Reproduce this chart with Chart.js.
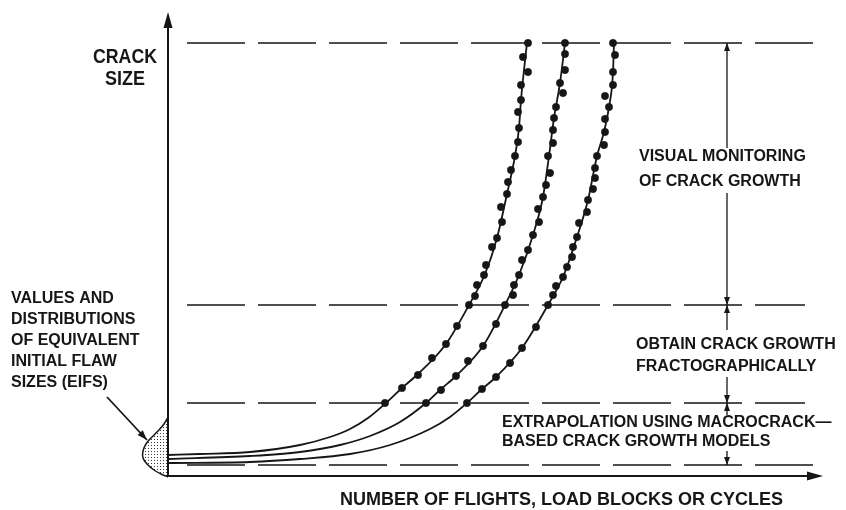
<!DOCTYPE html>
<html>
<head>
<meta charset="utf-8">
<script src="https://cdn.jsdelivr.net/npm/chart.js@4.4.0/dist/chart.umd.min.js"></script>
<style>
html, body { margin: 0; padding: 0; background: #fff; }
canvas { display: block; }
</style>
</head>
<body>
<canvas id="myChart" width="846" height="510"></canvas>
<script>
// schematic units: x = flights, y = crack size (arbitrary)
const curve1Line = [[0,2.2],[3.2,2.3],[8.2,2.5],[13.2,3.2],[16.2,4.0],[18.2,4.8],[20.0,5.9],[21.8,7.4],[23.4,8.9],[25.0,10.3],[27.8,13.3],[30.1,17.2],[31.7,20.3],[32.9,23.9],[33.9,28.3],[34.7,32.1],[35.1,34.9],[35.3,37.7],[35.6,40.7],[35.9,43.4]];
const curve2Line = [[0,1.8],[8.2,2.1],[13.2,2.5],[17.2,3.2],[20.2,4.1],[23.2,5.5],[25.8,7.4],[27.3,8.8],[28.8,10.1],[31.5,13.1],[33.7,17.2],[35.1,20.2],[36.5,24.2],[37.5,28.0],[38.1,32.1],[38.6,35.9],[39.2,39.4],[39.7,43.4]];
const curve3Line = [[0,1.4],[8.2,1.5],[13.2,1.8],[18.2,2.3],[22.2,3.2],[26.2,4.8],[28.2,6.0],[29.9,7.4],[31.4,8.8],[32.8,10.0],[35.4,12.9],[38.0,17.2],[39.5,20.0],[40.9,24.0],[42.0,27.7],[42.9,32.1],[43.6,34.5],[44.1,37.0],[44.5,40.5],[44.6,43.4]];

const curve1Dots = [[21.7,7.4],[23.4,8.9],[25.0,10.2],[26.4,11.9],[27.8,13.3],[28.9,15.1],[30.1,17.2],[30.7,18.1],[30.9,19.2],[31.6,20.2],[31.8,21.2],[32.4,23.0],[32.9,23.9],[33.4,25.5],[33.3,27.0],[33.9,28.3],[34.0,29.5],[34.3,30.7],[34.7,32.1],[35.0,33.5],[35.1,34.9],[35.0,36.5],[35.3,37.7],[35.3,39.2],[36.0,40.5],[35.5,42.0],[36.0,43.4]];
const curve2Dots = [[25.8,7.4],[27.3,8.7],[28.8,10.1],[30.0,11.6],[31.5,13.1],[32.8,15.3],[33.7,17.2],[34.5,18.2],[34.6,19.2],[35.1,20.2],[35.4,21.7],[36.0,22.7],[36.5,24.2],[37.1,25.5],[37.0,26.8],[37.5,28.0],[37.8,29.2],[38.2,30.4],[38.0,32.1],[38.5,33.4],[38.5,34.7],[38.6,35.9],[38.8,37.0],[39.5,38.4],[39.2,39.4],[39.7,40.7],[39.7,42.3],[39.7,43.4]];
const curve3Dots = [[29.9,7.4],[31.4,8.8],[32.8,10.0],[34.2,11.4],[35.4,12.9],[36.8,15.0],[38.0,17.2],[38.5,18.2],[38.8,19.1],[39.5,20.0],[39.9,21.0],[40.4,22.0],[40.5,23.0],[40.9,24.0],[41.1,25.4],[41.9,26.5],[42.0,27.7],[42.5,28.8],[42.7,29.9],[42.7,30.9],[42.9,32.1],[43.6,33.2],[43.7,34.5],[43.7,35.8],[44.1,37.0],[43.7,38.1],[44.5,39.2],[44.5,40.5],[44.7,42.2],[44.5,43.4]];

// initial flaw size distribution drawn against the crack size axis
const eifsShape = [[0,6.0],[-0.4,5.3],[-1.0,4.6],[-1.7,3.9],[-2.2,3.3],[-2.5,2.6],[-2.5,1.9],[-2.1,1.3],[-1.4,0.7],[-0.7,0.3],[-0.2,0.1],[0,0]];

// dashed crack size levels: [level, start, end]
const levels = [[43.4,1.9,65.8],[17.2,1.9,63.7],[7.4,1.9,63.7],[1.2,1.9,64.5]];

const toXY = arr => arr.map(p => ({ x: p[0], y: p[1] }));

const ink = '#161616';

const dotCanvas = document.createElement('canvas');
dotCanvas.width = 3; dotCanvas.height = 3;
const dctx = dotCanvas.getContext('2d');
dctx.fillStyle = '#3a3a3a';
dctx.fillRect(1, 1, 1, 1);
const stipple = document.getElementById('myChart').getContext('2d').createPattern(dotCanvas, 'repeat');

// text and arrow annotations, positions in chart units
const labels = [
    { t: 'CRACK', x: -4.3, y: 42.0, w: 64, font: 'bold 20px "Liberation Sans"', align: 'center' },
    { t: 'SIZE', x: -4.3, y: 39.8, w: 40, font: 'bold 20px "Liberation Sans"', align: 'center' },
    { t: 'VALUES AND', x: -15.7, y: 17.8, w: 110 },
    { t: 'DISTRIBUTIONS', x: -15.7, y: 15.7, w: 135 },
    { t: 'OF EQUIVALENT', x: -15.7, y: 13.6, w: 135 },
    { t: 'INITIAL FLAW', x: -15.7, y: 11.5, w: 118 },
    { t: 'SIZES (EIFS)', x: -15.7, y: 9.4, w: 101 },
    { t: 'VISUAL MONITORING', x: 47.1, y: 32.0, w: 177 },
    { t: 'OF CRACK GROWTH', x: 47.1, y: 29.5, w: 163 },
    { t: 'OBTAIN CRACK GROWTH', x: 46.8, y: 13.2, w: 204 },
    { t: 'FRACTOGRAPHICALLY', x: 46.8, y: 11.0, w: 186 },
    { t: 'EXTRAPOLATION USING MACROCRACK\u2014', x: 33.4, y: 5.4, w: 336 },
    { t: 'BASED CRACK GROWTH MODELS', x: 33.4, y: 3.5, w: 269 },
    { t: 'NUMBER OF FLIGHTS, LOAD BLOCKS OR CYCLES', x: 17.2, y: -2.3, w: 460, font: 'bold 18px "Liberation Sans"' }
];

const dimX = 55.9;
// [from, to] with an arrow head at "to"
const dimSegments = [[32.9,43.4],[28.4,17.2],[14.7,17.2],[10.0,7.4],[6.2,7.4],[2.6,1.2]];
const eifsArrow = [[-6.1,8.0],[-2.1,3.7]];

function arrowHead(ctx, x1, y1, x2, y2, len, half) {
    const a = Math.atan2(y2 - y1, x2 - x1);
    ctx.beginPath();
    ctx.moveTo(x2, y2);
    ctx.lineTo(x2 - len * Math.cos(a) + half * Math.sin(a), y2 - len * Math.sin(a) - half * Math.cos(a));
    ctx.lineTo(x2 - len * Math.cos(a) - half * Math.sin(a), y2 - len * Math.sin(a) + half * Math.cos(a));
    ctx.closePath();
    ctx.fill();
}

const schematic = {
    id: 'schematic',
    beforeDatasetsDraw(chart) {
        // stippled EIFS distribution (filler clips to the chart area, so fill by hand)
        const ctx = chart.ctx;
        const meta = chart.getDatasetMeta(chart.data.datasets.length - 1);
        const pts = meta.data;
        ctx.save();
        ctx.beginPath();
        ctx.moveTo(pts[0].x, pts[0].y);
        for (let i = 1; i < pts.length; i++) {
            const p = pts[i - 1], q = pts[i];
            if (p.cp2x !== undefined && q.cp1x !== undefined) {
                ctx.bezierCurveTo(p.cp2x, p.cp2y, q.cp1x, q.cp1y, q.x, q.y);
            } else {
                ctx.lineTo(q.x, q.y);
            }
        }
        ctx.closePath();
        ctx.fillStyle = stipple;
        ctx.fill();
        ctx.restore();
    },
    afterDatasetsDraw(chart) {
        const ctx = chart.ctx;
        const xs = chart.scales.x, ys = chart.scales.y;
        const px = v => xs.getPixelForValue(v);
        const py = v => ys.getPixelForValue(v);
        ctx.save();
        ctx.strokeStyle = ink;
        ctx.fillStyle = ink;

        // axes
        ctx.lineWidth = 2;
        ctx.beginPath();
        ctx.moveTo(px(0), py(0));
        ctx.lineTo(px(0), py(45.6));
        ctx.moveTo(px(0), py(0.1));
        ctx.lineTo(px(64.6), py(0.1));
        ctx.stroke();
        arrowHead(ctx, px(0), py(40), px(0), py(46.5), 16, 4.5);
        arrowHead(ctx, px(60), py(0.1), px(65.5), py(0.1), 16, 4.5);

        // dimension arrows
        ctx.lineWidth = 1.3;
        dimSegments.forEach(s => {
            ctx.beginPath();
            ctx.moveTo(px(dimX), py(s[0]));
            ctx.lineTo(px(dimX), py(s[1]));
            ctx.stroke();
            arrowHead(ctx, px(dimX), py(s[0]), px(dimX), py(s[1]), 8, 3);
        });

        // EIFS pointer
        ctx.lineWidth = 1.8;
        ctx.beginPath();
        ctx.moveTo(px(eifsArrow[0][0]), py(eifsArrow[0][1]));
        ctx.lineTo(px(eifsArrow[1][0]), py(eifsArrow[1][1]));
        ctx.stroke();
        arrowHead(ctx, px(eifsArrow[0][0]), py(eifsArrow[0][1]), px(eifsArrow[1][0]), py(eifsArrow[1][1]), 10, 3.5);

        // labels
        ctx.textBaseline = 'middle';
        labels.forEach(l => {
            ctx.font = l.font || 'bold 16px "Liberation Sans"';
            ctx.textAlign = l.align || 'left';
            ctx.fillText(l.t, px(l.x), py(l.y), l.w);
        });
        ctx.restore();
    }
};

const datasets = [];
[curve1Dots, curve2Dots, curve3Dots].forEach(d => {
    datasets.push({
        data: toXY(d), showLine: false, pointRadius: 3.7, pointBackgroundColor: ink,
        pointBorderColor: ink, pointBorderWidth: 0.5, order: 0
    });
});
[curve1Line, curve2Line, curve3Line].forEach(d => {
    datasets.push({
        data: toXY(d), borderColor: ink, borderWidth: 1.8, pointRadius: 0,
        cubicInterpolationMode: 'monotone', order: 1, clip: false
    });
});
levels.forEach(l => {
    datasets.push({
        data: [{ x: l[1], y: l[0] }, { x: l[2], y: l[0] }], borderColor: ink, borderWidth: 1.6,
        borderDash: [58, 13], pointRadius: 0, order: 2, clip: false
    });
});
datasets.push({
    data: toXY(eifsShape), borderColor: ink, borderWidth: 1.5, pointRadius: 0, tension: 0.4,
    fill: false, order: 3, clip: false
});

new Chart(document.getElementById('myChart'), {
    type: 'line',
    data: { datasets: datasets },
    options: {
        responsive: false,
        animation: false,
        layout: { padding: { left: 168, right: 18, top: 17, bottom: 33 } },
        scales: {
            x: { type: 'linear', min: 0, max: 66, display: false },
            y: { type: 'linear', min: 0, max: 46, display: false }
        },
        plugins: { legend: { display: false }, tooltip: { enabled: false } }
    },
    plugins: [schematic]
});
</script>
</body>
</html>
